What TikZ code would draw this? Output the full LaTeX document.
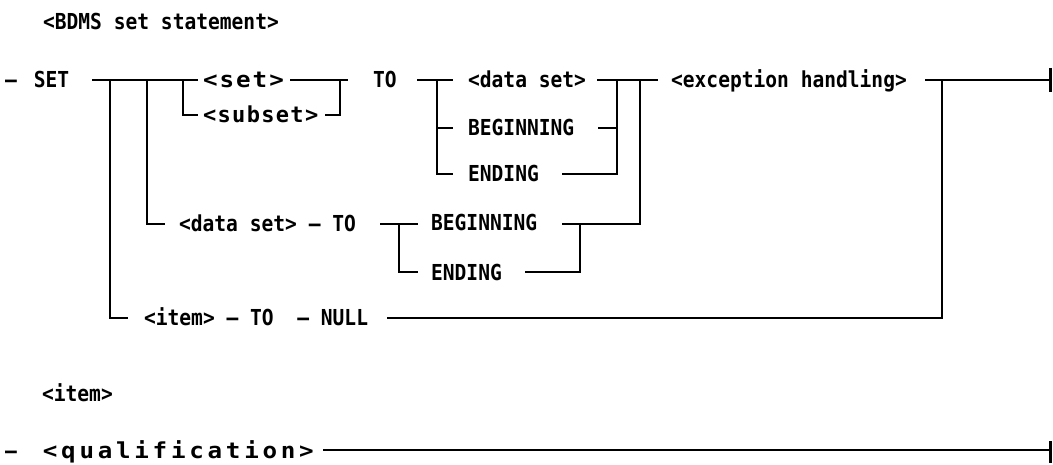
\documentclass[tikz,border=0pt]{standalone}
\usepackage{fontspec}
\newfontfamily\synfont[FakeStretch=0.89]{DejaVu Sans Mono}
\newfontfamily\midfont[FakeStretch=1.0]{DejaVu Sans Mono}
\newfontfamily\widefont[FakeStretch=1.1]{DejaVu Sans Mono}
\begin{document}
\begin{tikzpicture}[x=1pt,y=-1pt,line width=2.2pt,
  lbl/.style={anchor=base west,inner sep=0pt,font=\fontsize{22}{26}\selectfont\synfont\bfseries},
  bar/.style={line width=3pt}]
\useasboundingbox (0,0) rectangle (1053,465);
% texts
\node[lbl] (title) at (42,30) {<BDMS set statement>};
\node[lbl] (setkw) at (4,88) {–\hspace{17pt}SET};
\node[lbl] (set) at (202,88) {\widefont\bfseries\addfontfeature{LetterSpace=9}<set>};
\node[lbl] (subset) at (202,123) {\midfont\bfseries\addfontfeature{LetterSpace=6}<subset>};
\node[lbl] (to1) at (372,88) {TO};
\node[lbl] (ds1) at (467,88) {<data set>};
\node[lbl] (beg1) at (467,136) {BEGINNING};
\node[lbl] (end1) at (467,182) {ENDING};
\node[lbl] (exc) at (670,88) {<exception handling>};
\node[lbl] (ds2) at (178,232) {<data set>~–~TO};
\node[lbl] (beg2) at (430,231) {BEGINNING};
\node[lbl] (end2) at (430,280) {ENDING};
\node[lbl] (item) at (143,326) {<item>~–~TO~~–~NULL};
\node[lbl] (itemdef) at (41,401) {<item>};
\node[lbl] (qual) at (4,458) {–\hspace{26pt}\widefont\bfseries\addfontfeature{LetterSpace=17}<qualification>};
% coordinates
\coordinate (m0) at (92,80);
\coordinate (m1) at (198,80);
\coordinate (j1) at (110,80);
\coordinate (j2) at (147,80);
\coordinate (j3) at (183,80);
\coordinate (itemL) at (128,318);
\coordinate (ds2L) at (165,224);
\coordinate (subL) at (198,115);
\coordinate (setR) at (290,80);
\coordinate (toL) at (348,80);
\coordinate (k1) at (340,80);
\coordinate (subR) at (325,115);
\coordinate (to1R) at (417,80);
\coordinate (ds1L) at (453,80);
\coordinate (k2) at (437,80);
\coordinate (beg1L) at (453,128);
\coordinate (end1L) at (453,174);
\coordinate (ds1R) at (597,80);
\coordinate (excL) at (658,80);
\coordinate (k3) at (617,80);
\coordinate (k4) at (640,80);
\coordinate (beg1R) at (598,128);
\coordinate (end1R) at (562,174);
\coordinate (beg2R) at (562,224);
\coordinate (ds2R) at (380,224);
\coordinate (beg2L) at (418,224);
\coordinate (k5) at (399,224);
\coordinate (end2L) at (418,272);
\coordinate (end2R) at (525,272);
\coordinate (k6) at (580,224);
\coordinate (excR) at (925,80);
\coordinate (fin) at (1050,80);
\coordinate (k7) at (942,80);
\coordinate (itemR) at (387,318);
\coordinate (finT) at (1050,68);
\coordinate (finB) at (1050,92);
\coordinate (qualR) at (323,450);
\coordinate (qfin) at (1050,450);
\coordinate (qfinT) at (1050,441);
\coordinate (qfinB) at (1050,463);
% connectors
\draw (m0) -- (m1);
\draw (j1) |- (itemL);
\draw (j2) |- (ds2L);
\draw (j3) |- (subL);
\draw (setR) -- (toL);
\draw (subR) -| (k1);
\draw (to1R) -- (ds1L);
\draw (k2) |- (beg1L);
\draw (k2) |- (end1L);
\draw (ds1R) -- (excL);
\draw (beg1R) -| (k3);
\draw (end1R) -| (k3);
\draw (beg2R) -| (k4);
\draw (ds2R) -- (beg2L);
\draw (k5) |- (end2L);
\draw (end2R) -| (k6);
\draw (excR) -- (fin);
\draw (itemR) -| (k7);
\draw[bar] (finT) -- (finB);
\draw (qualR) -- (qfin);
\draw[bar] (qfinT) -- (qfinB);
\end{tikzpicture}
\end{document}
